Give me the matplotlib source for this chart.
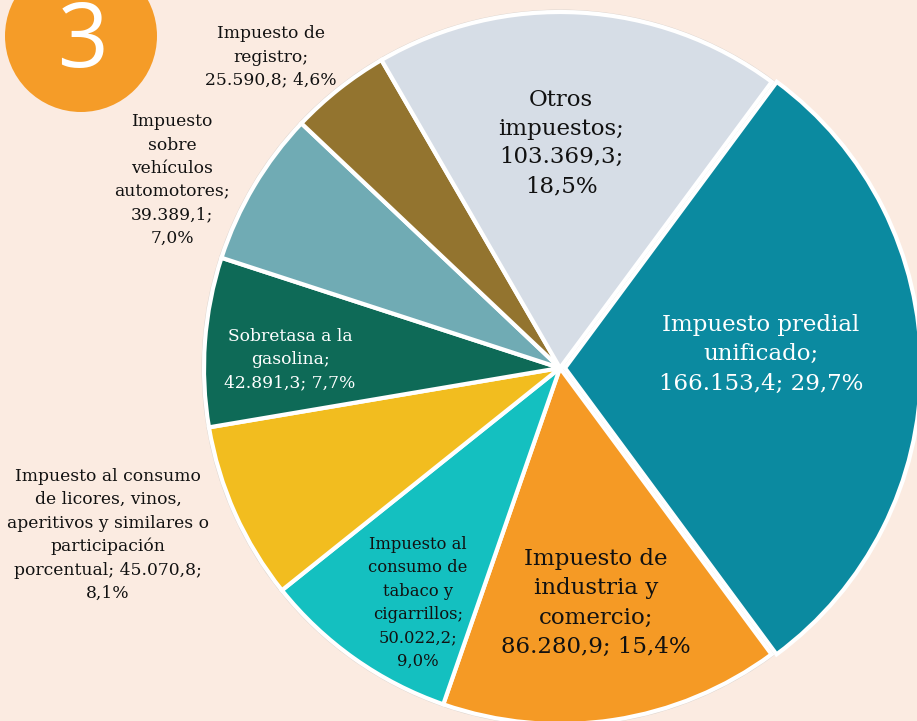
import matplotlib
matplotlib.use("Agg")
import matplotlib.pyplot as plt
from matplotlib.patches import Circle

# data (millones de pesos)
categorias = [
    "Impuesto predial\nunificado",
    "Impuesto de\nindustria y\ncomercio",
    "Impuesto al\nconsumo de\ntabaco y\ncigarrillos",
    "Impuesto al consumo\nde licores, vinos,\naperitivos y similares o\nparticipación\nporcentual",
    "Sobretasa a la\ngasolina",
    "Impuesto\nsobre\nvehículos\nautomotores",
    "Impuesto de\nregistro",
    "Otros\nimpuestos",
]
valores = [166153.4, 86280.9, 50022.2, 45070.8, 42891.3, 39389.1, 25590.8, 103369.3]
textos_valor = ["\n166.153,4; 29,7%", "\n86.280,9; 15,4%", "\n50.022,2;\n9,0%",
                " 45.070,8;\n8,1%", "\n42.891,3; 7,7%", "\n39.389,1;\n7,0%",
                "\n25.590,8; 4,6%", "\n103.369,3;\n18,5%"]
colores = ["#0b8aa0", "#f59a25", "#14c0c0", "#f2bd1f",
           "#0e6a57", "#70abb4", "#93742f", "#d6dde6"]

# label placement (pixel coords, y from top) and styling
pos_etiquetas = [(761, 354), (596, 603), (418, 603), (108, 535),
                 (290, 360), (172, 180), (271, 57), (561, 143)]
color_texto = ["white", "#111111", "#111111", "#111111",
               "white", "#111111", "#111111", "#111111"]
tam_texto = [16.5, 16.5, 11.8, 12.3, 12.3, 12.3, 12.3, 16.5]
sep_lineas = [1.44, 1.44, 1.5, 1.48, 1.48, 1.48, 1.48, 1.39]
etiquetas = [c + ";" + t for c, t in zip(categorias, textos_valor)]

W, H = 917, 721
fondo = "#fbebe1"
fig = plt.figure(figsize=(W / 100, H / 100), dpi=100, facecolor=fondo)
ax = fig.add_axes([0, 0, 1, 1])
ax.set_facecolor(fondo)

cx, cy, r = 560, H - 368, 356

# faint shadow ring behind the pie
ax.add_patch(Circle((cx, cy), r + 2.5, facecolor="#ddd5cf", edgecolor="none", zorder=0))

explode = [5, 0, 0, 0, 0, 0, 0, 0]
wedges, _ = ax.pie(valores, colors=colores, startangle=53.5, counterclock=False,
                   center=(cx, cy), radius=r, explode=explode,
                   wedgeprops=dict(edgecolor="white", linewidth=3), frame=True)

for txt, (x, y), col, fs, ls in zip(etiquetas, pos_etiquetas, color_texto, tam_texto, sep_lineas):
    ax.text(x, H - y, txt, ha="center", va="center", color=col, fontsize=fs,
            family="DejaVu Serif", linespacing=ls, zorder=5)

# orange badge with the figure number
ax.add_patch(Circle((81, H - 36), 76, facecolor="#f59c28", edgecolor="none", zorder=6))
ax.text(82, H - 67, "3", ha="center", va="baseline", color="white", fontsize=64,
        family="Open Sans", zorder=7)

ax.set_xlim(0, W)
ax.set_ylim(0, H)
ax.set_aspect("equal")
ax.axis("off")

fig.savefig("out.png", dpi=100, facecolor=fondo)
